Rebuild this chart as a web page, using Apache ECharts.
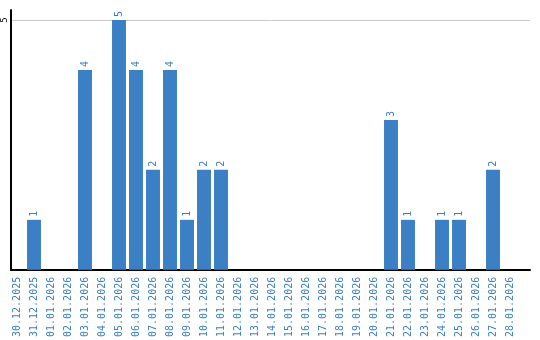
<!DOCTYPE html>
<html><head><meta charset="utf-8">
<script src="https://cdn.jsdelivr.net/npm/echarts@6/dist/echarts.min.js"></script>
<style>html,body{margin:0;padding:0;background:#fff}#c{width:540px;height:340px}</style>
</head><body><div id="c"></div>
<script>
var categories = ["30.12.2025","31.12.2025","01.01.2026","02.01.2026","03.01.2026","04.01.2026","05.01.2026","06.01.2026","07.01.2026","08.01.2026","09.01.2026","10.01.2026","11.01.2026","12.01.2026","13.01.2026","14.01.2026","15.01.2026","16.01.2026","17.01.2026","18.01.2026","19.01.2026","20.01.2026","21.01.2026","22.01.2026","23.01.2026","24.01.2026","25.01.2026","26.01.2026","27.01.2026","28.01.2026"];
var values = [0,1,0,0,4,0,5,4,2,4,1,2,2,0,0,0,0,0,0,0,0,0,3,1,0,1,1,0,2,0];
var yTicks = [0,5];

var blue = '#3b7fc4';
var yMax = 5.2;
var chart = echarts.init(document.getElementById('c'), null, {renderer:'canvas'});
chart.setOption({
  animation:false,
  grid:[
    {left:10, top:10, right:10, bottom:70, containLabel:false},
    {left:8.5, top:10, width:510, bottom:70, containLabel:false}
  ],
  xAxis:[
    {type:'value', gridIndex:0, min:0, max:1, position:'bottom',
      axisLine:{show:true, onZero:false, lineStyle:{color:'#000', width:2}},
      axisTick:{show:false}, axisLabel:{show:false}, splitLine:{show:false}},
    {type:'category', gridIndex:1, data:categories, boundaryGap:true,
      axisLine:{show:false}, axisTick:{show:false},
      axisLabel:{rotate:90, interval:0, margin:7, color:blue, fontSize:10, fontFamily:'DejaVu Sans Mono'}}
  ],
  yAxis:[
    {type:'value', gridIndex:0, min:0, max:yMax, interval:5,
      axisLine:{show:true, onZero:false, lineStyle:{color:'#000', width:2}},
      axisTick:{show:false},
      splitLine:{show:true, lineStyle:{color:['rgba(0,0,0,0)','#ccc','rgba(0,0,0,0)'], width:1}},
      axisLabel:{rotate:90, margin:2, align:'center', verticalAlign:'bottom', color:'#000', fontSize:9, fontFamily:'DejaVu Sans Mono',
        formatter:function(v){return (yTicks.indexOf(v)>=0 && v>0) ? String(v) : '';}}},
    {type:'value', gridIndex:1, min:0, max:yMax, show:false}
  ],
  series:[{type:'bar', xAxisIndex:1, yAxisIndex:1, data:values, barCategoryGap:'18%', itemStyle:{color:blue},
    label:{show:true, position:'top', rotate:90, align:'left', verticalAlign:'middle', distance:3,
      color:blue, fontSize:10, fontFamily:'DejaVu Sans Mono',
      formatter:function(p){return p.value ? String(p.value) : '';}}
  }]
});
</script></body></html>
